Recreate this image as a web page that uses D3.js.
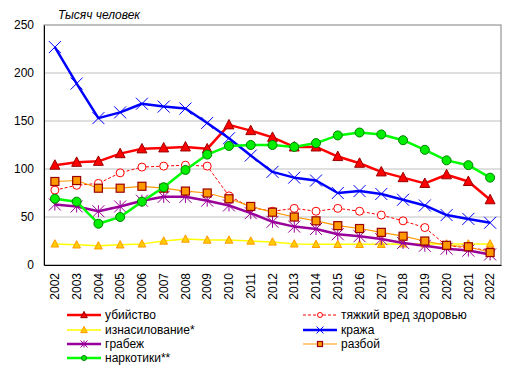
<!DOCTYPE html>
<html><head><meta charset="utf-8">
<script src="https://cdn.jsdelivr.net/npm/d3@7"></script>
<style>body{margin:0;background:#fff;}svg{display:block;font-family:"Liberation Sans",Arial,sans-serif;}</style>
</head><body>
<svg id="c" width="516" height="371"></svg>
<script>
const years = [2002,2003,2004,2005,2006,2007,2008,2009,2010,2011,2012,2013,2014,2015,2016,2017,2018,2019,2020,2021,2022];
const yTicks = [0,50,100,150,200,250];
const murder   = [104,107,108,116,121,122,123,121,146,140,133,123,123,113,106,97,91,85,94,87,68];
const injury   = [78,83,85,96,102,103,104,103,72,60,56,59,56,59,56,52,46,39,20,18,15];
const rape     = [22,21,20,21,22,25,27,26,26,25,24,22,21.5,21.5,21.5,21.5,22,22,22,22,22];
const theft    = [227,189,153,159,168,165,163,148,132,114,97,91,88,75,77,74,68,62,52,48,44];
const robbery  = [63,61,56,61,67,71,71,67,62,54,45,40,37.5,32,30,27,23,20,17,15,11];
const armed    = [87,88,80,80,82,80,77,75,69,61,55,50,46,41,38,34,30,25,20.5,19,13];
const drugs    = [69,66,43,50,66,81,99,115,124,125,125,123,127,135,138,136,130,120,109,104,91];

const series = [
  {name:"убийство", data:murder, color:"#FF0000", width:2.5, dash:null, marker:"triangle", size:9, fill:"#FF0000", stroke:"#990000"},
  {name:"тяжкий вред здоровью", data:injury, color:"#FF0000", width:1, dash:"3,2", marker:"circle", size:4, fill:"#FFFFFF", stroke:"#FF0000"},
  {name:"изнасилование*", data:rape, color:"#FFFF00", width:1.5, dash:null, marker:"triangle", size:7, fill:"#FFCC00", stroke:"#FF9900"},
  {name:"кража", data:theft, color:"#0000FF", width:2.5, dash:null, marker:"cross", size:6, fill:"none", stroke:"#0000FF"},
  {name:"грабеж", data:robbery, color:"#990099", width:2.5, dash:null, marker:"star", size:6, fill:"none", stroke:"#990099"},
  {name:"разбой", data:armed, color:"#FF9900", width:1.2, dash:null, marker:"square", size:8, fill:"#FF9900", stroke:"#990000"},
  {name:"наркотики**", data:drugs, color:"#00FF00", width:2.5, dash:null, marker:"circle", size:4.5, fill:"#00EE00", stroke:"#008000"}
];

const svg = d3.select("#c");
const L=44, R=501, T=25, B=265;
const x = d3.scaleBand().domain(years).range([L,R]).padding(0);
const y = d3.scaleLinear().domain([0,250]).range([B,T]);
const cx = d => x(d) + x.bandwidth()/2;

// grid
svg.append("g").selectAll("line").data(yTicks.filter(t=>t>0&&t<250)).join("line")
  .attr("x1",L).attr("x2",R).attr("y1",d=>y(d)).attr("y2",d=>y(d))
  .attr("stroke","#C0C0C0").attr("stroke-width",1);
// frame
svg.append("rect").attr("x",L).attr("y",T).attr("width",R-L).attr("height",B-T)
  .attr("fill","none").attr("stroke","#808080").attr("stroke-width",1);
// axes
const yAxis = d3.axisLeft(y).tickValues(yTicks).tickSize(0).tickPadding(10);
const gy = svg.append("g").attr("transform",`translate(${L},0)`).call(yAxis);
gy.select(".domain").attr("stroke","#000");
gy.selectAll("text").attr("font-size",12).attr("fill","#000").style("font-family","Liberation Sans, Arial, sans-serif");

const xAxis = d3.axisBottom(x).tickSize(0).tickPadding(0);
const gx = svg.append("g").attr("transform",`translate(0,${B})`).call(xAxis);
gx.select(".domain").attr("stroke","#000");
gx.selectAll("text").attr("font-size",12).attr("fill","#000")
  .style("font-family","Liberation Sans, Arial, sans-serif")
  .attr("text-anchor","end").attr("dy","0.35em")
  .attr("transform","translate(0,8) rotate(-90)").attr("x",0).attr("y",0);

svg.append("text").attr("x",58).attr("y",19).attr("font-size",12).attr("font-style","italic")
  .text("Тысяч человек");

function drawMarker(g, type, size, fill, stroke, px, py){
  if(type==="triangle"){
    const s=size;
    g.append("path").attr("d",`M${px},${py-s*0.6}L${px+s*0.55},${py+s*0.45}L${px-s*0.55},${py+s*0.45}Z`)
      .attr("fill",fill).attr("stroke",stroke).attr("stroke-width",1);
  } else if(type==="circle"){
    g.append("circle").attr("cx",px).attr("cy",py).attr("r",size).attr("fill",fill).attr("stroke",stroke).attr("stroke-width",1);
  } else if(type==="square"){
    const s=size/2;
    g.append("rect").attr("x",px-s).attr("y",py-s).attr("width",size).attr("height",size)
      .attr("fill",fill).attr("stroke",stroke).attr("stroke-width",1.2);
  } else if(type==="cross"){
    const s=size;
    g.append("path").attr("d",`M${px-s},${py-s}L${px+s},${py+s}M${px-s},${py+s}L${px+s},${py-s}`)
      .attr("stroke",stroke).attr("stroke-width",1).attr("fill","none");
  } else if(type==="star"){
    const s=size;
    g.append("path").attr("d",`M${px-s},${py-s}L${px+s},${py+s}M${px-s},${py+s}L${px+s},${py-s}M${px},${py-s}L${px},${py+s}`)
      .attr("stroke",stroke).attr("stroke-width",1).attr("fill","none");
  }
}

const line = d3.line().x((d,i)=>cx(years[i])).y(d=>y(d));
series.forEach(s=>{
  const g = svg.append("g");
  g.append("path").attr("d",line(s.data)).attr("fill","none").attr("stroke",s.color)
    .attr("stroke-width",s.width).attr("stroke-dasharray",s.dash).attr("stroke-linejoin","round");
  s.data.forEach((v,i)=>drawMarker(g,s.marker,s.size,s.fill,s.stroke,cx(years[i]),y(v)));
});

// legend
const legPos = [[67,315],[303,315],[67,330],[303,330],[67,344],[303,344],[67,358]];
series.forEach((s,i)=>{
  const [lx,ly]=legPos[i];
  const g=svg.append("g");
  g.append("line").attr("x1",lx).attr("x2",lx+34).attr("y1",ly).attr("y2",ly)
    .attr("stroke",s.color).attr("stroke-width",s.width).attr("stroke-dasharray",s.dash);
  const sz = s.marker==="circle"?2.5:(s.marker==="square"?5:(s.marker==="triangle"?6:3.5));
  drawMarker(g,s.marker,sz,s.fill,s.stroke,lx+17,ly);
  g.append("text").attr("x",lx+38).attr("y",ly).attr("dy","0.35em").attr("font-size",12).text(s.name);
});
</script>
</body></html>
